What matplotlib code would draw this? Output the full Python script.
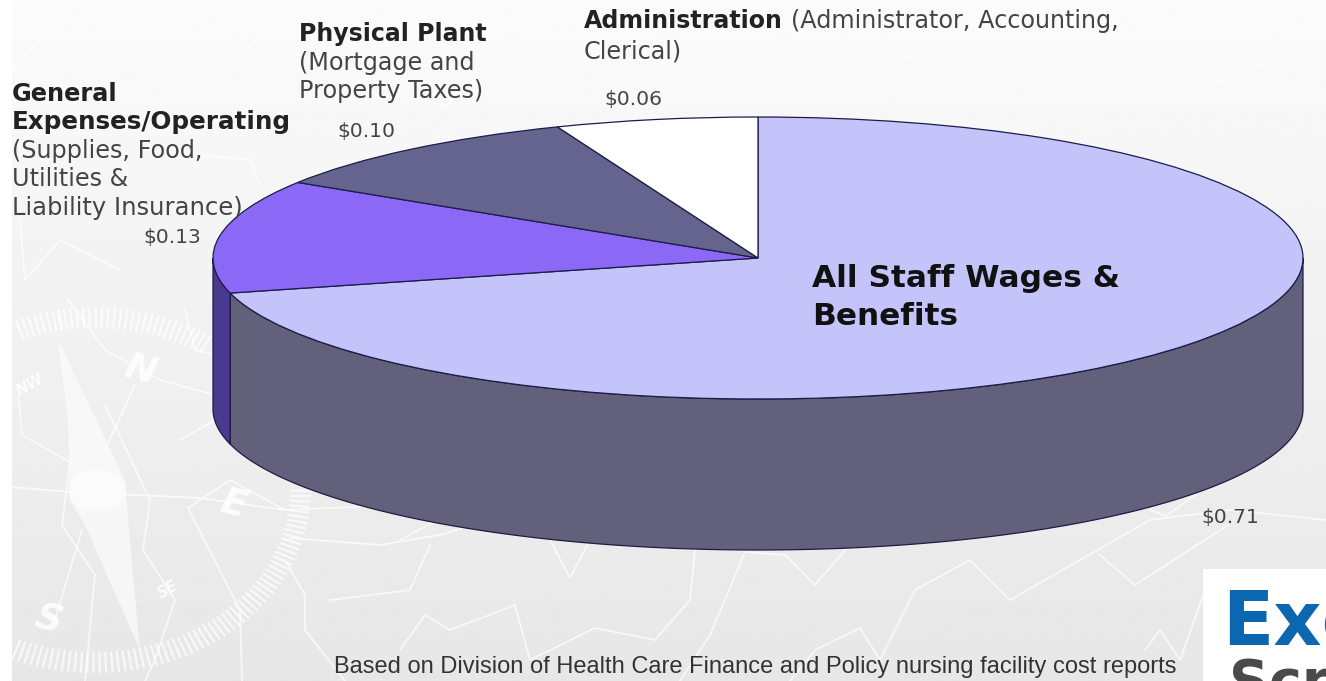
import numpy as np
import matplotlib
matplotlib.use("Agg")
import matplotlib.pyplot as plt
from matplotlib.patches import Ellipse, Polygon, Rectangle

plt.rcParams['font.family'] = ['DejaVu Sans']

# cost per dollar, clockwise from the top of the pie
labels = ['All Staff Wages & Benefits', 'General Expenses/Operating', 'Physical Plant', 'Administration']
values = [0.71, 0.13, 0.10, 0.06]
value_labels = ['$0.71', '$0.13', '$0.10', '$0.06']
top_colors = ['#c4c4fb', '#8c68f6', '#64648f', '#ffffff']
wall_colors = ['#62607b', '#4b3990', '#3f3f60', '#9a9a9a']

W, H = 1326, 681
CX, CY, RX, RY = 758, 258, 545, 141
DEPTH = 151 / RY
EDGE = '#1c1c48'

# faint map outlines behind the chart
map_lines = [
    [(12, 487), (70, 492), (200, 498), (285, 510), (330, 508), (400, 505), (470, 510)],
    [(68, 300), (105, 350), (160, 380), (215, 395)],
    [(185, 310), (195, 350), (230, 358)],
    [(18, 395), (22, 435), (70, 462), (62, 525), (95, 575), (85, 681)],
    [(105, 405), (150, 500), (143, 550), (175, 600), (155, 660), (145, 681)],
    [(135, 385), (105, 450)],
    [(180, 440), (215, 420)],
    [(188, 508), (230, 480), (285, 510)],
    [(188, 508), (240, 610), (242, 681)],
    [(285, 560), (305, 595), (305, 630), (345, 681)],
    [(290, 538), (380, 545), (440, 535), (520, 510)],
    [(82, 530), (55, 620)],
    [(330, 600), (410, 590), (430, 545)],
    [(400, 540), (452, 512)],
    [(550, 540), (570, 578), (590, 540)],
    [(400, 650), (425, 615), (450, 630), (515, 605), (530, 660), (595, 628), (655, 640), (690, 600), (700, 500)],
    [(680, 681), (710, 635), (745, 552), (785, 555), (815, 585), (880, 510), (960, 470)],
    [(790, 681), (815, 650), (860, 628), (880, 660), (915, 590), (970, 560), (1010, 600), (1150, 520), (1230, 510), (1326, 520)],
    [(1145, 650), (1160, 630), (1180, 660), (1205, 590)],
    [(1100, 555), (1135, 585), (1228, 525)],
    [(1150, 510), (1166, 516), (1195, 495)],
    [(20, 220), (25, 280), (60, 240), (120, 270)],
    [(145, 150), (250, 160), (260, 185)],
    [(220, 70), (300, 5)],
    [(440, 110), (560, 10)],
    [(900, 60), (1000, 30), (1060, 0)],
    [(1200, 90), (1326, 40)],
    [(10, 70), (40, 40)],
]

needle = [(58, 340), (68, 420), (70, 500), (85, 525), (140, 650), (128, 520), (125, 480)]

fig = plt.figure(figsize=(W / 100, H / 100), dpi=100)

# background layer, in pixels with y going down
bg = fig.add_axes([0, 0, 1, 1], zorder=0)
bg.axis('off')
shade = np.linspace(0.985, 0.905, 256).reshape(-1, 1)
bg.imshow(shade, cmap='gray', vmin=0, vmax=1, extent=(12, W, H, 0), aspect='auto')
bg.set_xlim(0, W)
bg.set_ylim(H, 0)

for line in map_lines:
    xs, ys = zip(*line)
    bg.plot(xs, ys, color='white', lw=1.3, alpha=0.7, solid_joinstyle='miter')

# compass ring, open on the upper right
for deg in np.arange(-100, 262, 1.7):
    a = np.radians(deg)
    x0, y0 = 95 + 196 * np.cos(a), 490 + 163 * np.sin(a)
    x1, y1 = 95 + 215 * np.cos(a), 490 + 182 * np.sin(a)
    if x0 > 12 and x1 > 12 and not (x0 > 205 and y0 < 490):
        bg.plot([x0, x1], [y0, y1], color='white', lw=1.6, alpha=0.7)

bg.add_patch(Polygon(needle, closed=True, fc='white', ec='none', alpha=0.6))
bg.add_patch(Ellipse((97, 490), 58, 42, fc='white', ec='none', alpha=0.5))
for s, x, y, size, rot in [('N', 140, 370, 27, -15), ('S', 48, 620, 27, -15), ('E', 233, 505, 27, -15),
                           ('NW', 30, 385, 11, 30), ('SE', 168, 590, 11, 30)]:
    bg.text(x, y, s, color='white', fontsize=size, fontweight='bold', style='italic',
            rotation=rot, ha='center', va='center', alpha=0.85)

# pie axes: one data unit is one pie radius, so the circle flattens to an ellipse
ax = fig.add_axes([0, 0, 1, 1], zorder=1)
ax.patch.set_alpha(0)
wedges, _ = ax.pie(values, colors=top_colors, startangle=90, counterclock=False,
                   wedgeprops={'edgecolor': EDGE, 'linewidth': 0.9})
ax.set_aspect('auto')
ax.set_xlim((0 - CX) / RX, (W - CX) / RX)
ax.set_ylim((CY - H) / RY, CY / RY)

# side walls: only the part of each slice facing the viewer, angles 180-360
start = 90.0
for v, wall in zip(values, wall_colors):
    end = start - 360 * v
    lo, hi = max(end, -180), min(start, 0)
    if lo < hi:
        t = np.radians(np.linspace(lo, hi, 200))
        top = np.column_stack([np.cos(t), np.sin(t)])
        bottom = top[::-1] - [0, DEPTH]
        ax.add_patch(Polygon(np.vstack([top, bottom]), closed=True, fc=wall, ec=EDGE, lw=0.9, zorder=0.5))
    start = end

# text layer
fg = fig.add_axes([0, 0, 1, 1], zorder=2)
fg.patch.set_alpha(0)
fg.set_xlim(0, W)
fg.set_ylim(H, 0)
fg.axis('off')

INK = '#222222'
GREY = '#444444'
BODY = 17.2


def label(x, y, s, bold=False, size=BODY, color=None):
    color = color or (INK if bold else GREY)
    return fg.text(x, y, s, fontsize=size, fontweight='bold' if bold else 'normal',
                   color=color, va='baseline', ha='left')


label(299, 41, 'Physical Plant', bold=True, size=17.0)
label(299, 70, '(Mortgage and')
label(299, 98, 'Property Taxes)')

label(12, 101, 'General', bold=True, size=17.3)
label(12, 129, 'Expenses/Operating', bold=True, size=17.7)
label(12, 158, '(Supplies, Food,')
label(12, 186, 'Utilities &')
label(12, 215, 'Liability Insurance)', size=17.5)

label(584, 28, 'Administration', bold=True, size=17.1)
label(791, 28, '(Administrator, Accounting,')
label(584, 58, 'Clerical)')

for s, x, y in zip(value_labels, [1201, 143, 337, 604], [523, 243, 137, 105]):
    label(x, y, s, size=14.6)

label(812, 287, 'All Staff Wages &', bold=True, size=22.5, color='#111111')
label(812, 325, 'Benefits', bold=True, size=22.4, color='#111111')

fg.text(334, 673, 'Based on Division of Health Care Finance and Policy nursing facility cost reports',
        fontsize=17, color='#333333', family='Liberation Sans', va='baseline')

# logo block in the corner
fg.add_patch(Rectangle((1203, 569), W - 1203, H - 569, fc='white', ec='none'))
fg.text(1222, 645, 'Exc', fontsize=54, fontweight='bold', color='#0b68b0', va='baseline', clip_on=True)
fg.text(1229, 699, 'Scr', fontsize=40, fontweight='bold', color='#4a4a4a', va='baseline', clip_on=True)

fig.savefig('out.png', dpi=100)
